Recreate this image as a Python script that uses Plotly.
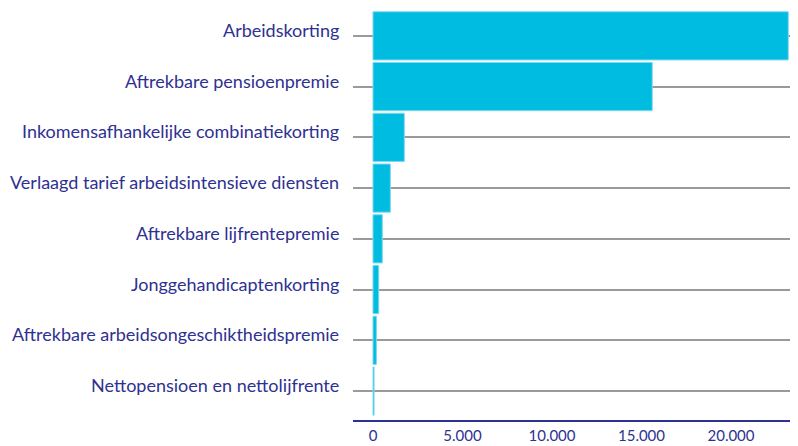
import plotly.graph_objects as go

categories = [
    "Arbeidskorting",
    "Aftrekbare pensioenpremie",
    "Inkomensafhankelijke combinatiekorting",
    "Verlaagd tarief arbeidsintensieve diensten",
    "Aftrekbare lijfrentepremie",
    "Jonggehandicaptenkorting",
    "Aftrekbare arbeidsongeschiktheidspremie",
    "Nettopensioen en nettolijfrente",
]
values = [23200, 15600, 1750, 970, 520, 320, 190, 60]
tick_vals = [0, 5000, 10000, 15000, 20000]
tick_text = ["0", "5.000", "10.000", "15.000", "20.000"]

navy = "#2E3192"

fig = go.Figure(
    go.Bar(
        x=values,
        y=categories,
        orientation="h",
        marker=dict(color="#00BCE0", line=dict(color="#7FD9EE", width=1)),
        hoverinfo="x+y",
    )
)

# category labels sit slightly above their gridline, as in the reference
for cat in categories:
    fig.add_annotation(
        x=0, xref="paper", y=cat, yref="y",
        text=cat, showarrow=False,
        xanchor="right", yanchor="middle",
        xshift=-12, yshift=6,
        font=dict(family="Lato", size=18, color=navy),
    )

fig.update_layout(
    width=790,
    height=438,
    margin=dict(l=345, r=0, t=3, b=26),
    paper_bgcolor="white",
    plot_bgcolor="white",
    bargap=0.05,
    showlegend=False,
    font=dict(family="Lato", color=navy),
)

fig.update_xaxes(
    range=[-1117, 23743],
    tickvals=tick_vals,
    ticktext=tick_text,
    showgrid=False,
    zeroline=False,
    showline=True,
    linecolor=navy,
    linewidth=1.5,
    ticks="",
    ticklabelstandoff=1,
    automargin=False,
    tickfont=dict(family="Lato", size=15, color=navy),
)

fig.update_yaxes(
    categoryorder="array",
    categoryarray=categories,
    range=[7.57, -0.49],
    showgrid=True,
    gridcolor="#9A9A9A",
    gridwidth=1.5,
    zeroline=False,
    showline=False,
    ticks="",
    showticklabels=False,
    automargin=False,
)

fig.write_html("out.html")
